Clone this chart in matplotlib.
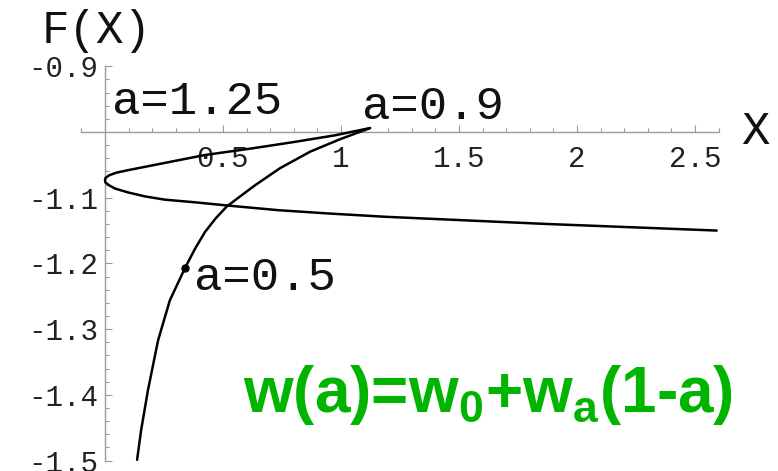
import matplotlib
matplotlib.use("Agg")
import matplotlib.pyplot as plt
from matplotlib.ticker import FixedLocator, FuncFormatter

# Trajectory branch that turns back at X = 0 (loop), read as (X, F) pairs
loop_x = [1.123, 0.975, 0.805, 0.622, 0.424, 0.240, 0.099, 0.047, 0.017, 0.002, 0.0,
          0.002, 0.017, 0.042, 0.098, 0.169, 0.254, 0.381, 0.522, 0.734, 0.946, 1.186, 1.872, 2.592]
loop_f = [-0.994, -1.005, -1.015, -1.025, -1.035, -1.048, -1.058, -1.062, -1.066, -1.070, -1.073,
          -1.077, -1.081, -1.086, -1.092, -1.098, -1.103, -1.107, -1.112, -1.119, -1.124, -1.129,
          -1.140, -1.150]

# Trajectory branch that falls steeply toward small X
fall_x = [1.123, 0.996, 0.869, 0.742, 0.636, 0.517, 0.470, 0.424, 0.381, 0.339,
          0.275, 0.225, 0.182, 0.153, 0.136]
fall_f = [-0.994, -1.011, -1.030, -1.055, -1.081, -1.113, -1.131, -1.152, -1.178, -1.207,
          -1.256, -1.317, -1.393, -1.454, -1.499]

# Marked point and scale-factor labels
dot_x, dot_f = 0.339, -1.207
labels = ["a=1.25", "a=0.9", "a=0.5"]
label_x = [0.030, 1.089, 0.377]
label_f = [-0.954, -0.962, -1.222]

x_major = [0.5, 1, 1.5, 2, 2.5]
y_major = [-0.9, -1.1, -1.2, -1.3, -1.4, -1.5]

mono = "Liberation Mono"
axis_grey = "#9a9a9a"
ink = "#111111"

fig = plt.figure(figsize=(7.78, 4.71), dpi=100)
ax = fig.add_axes([0, 0, 1, 1])
ax.set_xlim(-105 / 236, (778 - 105) / 236)
ax.set_ylim(-1 - (471 - 132) / 657, -1 + 132 / 657)

for side in ("top", "right"):
    ax.spines[side].set_visible(False)
ax.spines["left"].set_position(("data", 0))
ax.spines["bottom"].set_position(("data", -1))
ax.spines["left"].set_bounds(-1.5, -0.9)
ax.spines["bottom"].set_bounds(-0.1, 2.6)
for side in ("left", "bottom"):
    ax.spines[side].set_color(axis_grey)
    ax.spines[side].set_linewidth(1.0)

ax.xaxis.set_major_locator(FixedLocator(x_major))
ax.xaxis.set_minor_locator(FixedLocator([i / 10 for i in range(-1, 27) if i % 5 != 0]))
ax.yaxis.set_major_locator(FixedLocator(y_major))
ax.yaxis.set_minor_locator(FixedLocator([-1.5 + i * 0.02 for i in range(31) if i % 5 != 0]))
ax.xaxis.set_major_formatter(FuncFormatter(lambda v, p: f"{v:g}"))
ax.yaxis.set_major_formatter(FuncFormatter(lambda v, p: f"{v:.1f}"))

ax.tick_params(which="both", direction="in", color=axis_grey, width=0.8)
ax.tick_params(which="major", length=5)
ax.tick_params(which="minor", length=3)
ax.tick_params(axis="x", which="major", pad=9, labelsize=21, labelcolor="#222222")
ax.tick_params(axis="y", which="major", pad=5, labelsize=21, labelcolor="#222222")
for lab in ax.get_xticklabels() + ax.get_yticklabels():
    lab.set_fontfamily(mono)

line_kw = dict(color="black", lw=1.8, solid_joinstyle="round", solid_capstyle="round", zorder=3)
ax.plot(loop_x, loop_f, **line_kw)
ax.plot(fall_x, fall_f, **line_kw)
ax.plot([dot_x], [dot_f], "o", color="black", ms=5, zorder=4)

for txt, lx, lf in zip(labels, label_x, label_f):
    ax.text(lx, lf, txt, family=mono, fontsize=34, ha="left", va="center", color=ink)

ax.text(-0.034, -0.847, "F(X)", family=mono, fontsize=33, ha="center", va="center", color=ink)
ax.text(2.754, -1.0, "X", family=mono, fontsize=34, ha="center", va="center", color=ink)

plt.rcParams["mathtext.fontset"] = "custom"
plt.rcParams["mathtext.rm"] = "Liberation Sans:bold"
plt.rcParams["mathtext.it"] = "Liberation Sans:bold"
plt.rcParams["mathtext.bf"] = "Liberation Sans:bold"
ax.text(2.661, -1.400, "w(a)=w$_0$+w$_a$(1-a)", family="Liberation Sans", fontweight="bold",
        fontsize=46, color="#00b400", ha="right", va="center")

fig.savefig("out.png", dpi=100)
